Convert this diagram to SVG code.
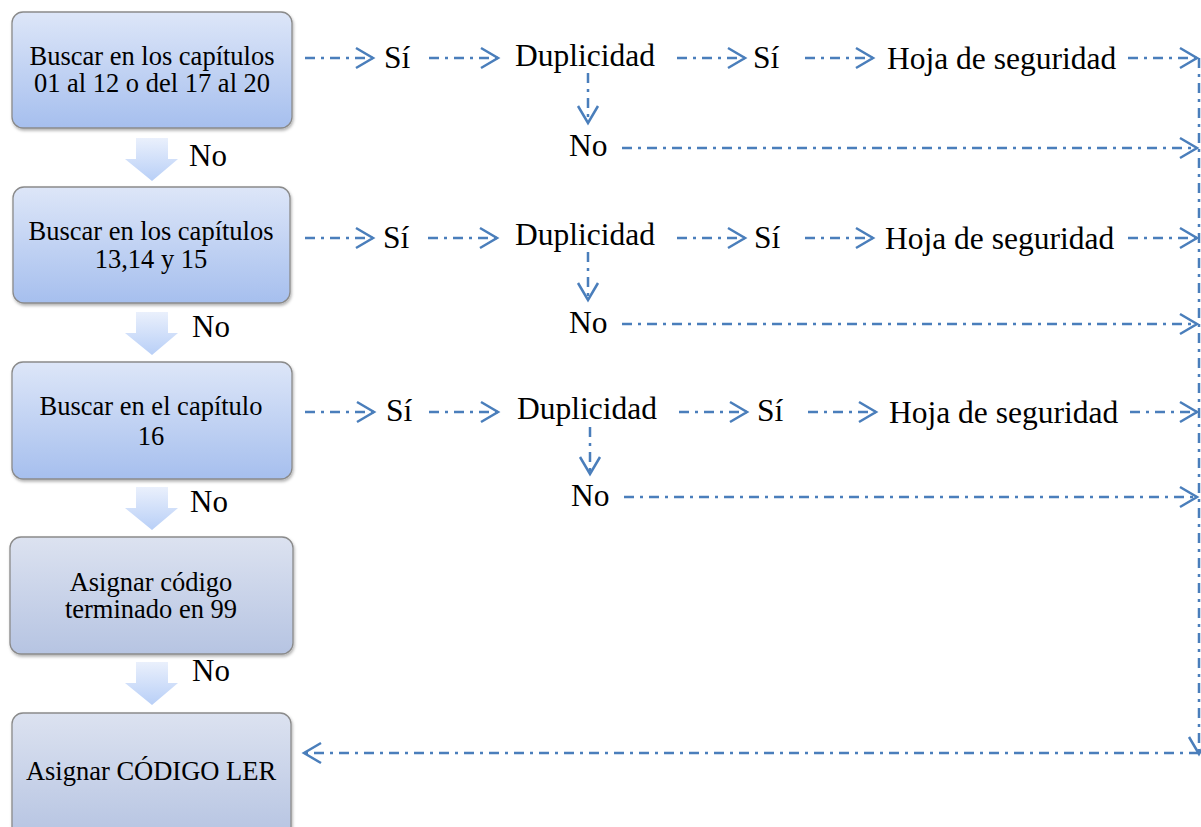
<svg xmlns="http://www.w3.org/2000/svg" width="1201" height="827" viewBox="0 0 1201 827">
<style>
.box{stroke:#8a8a8a;stroke-width:1.3}
.bt{font-family:"Liberation Serif","Times New Roman",serif;font-size:26.5px;fill:#000;text-anchor:middle}
.t{font-family:"Liberation Serif","Times New Roman",serif;font-size:31.5px;fill:#000}
.no{font-family:"Liberation Serif","Times New Roman",serif;font-size:31px;fill:#000}
.c{fill:none;stroke:#4a7ebb;stroke-width:2.5;stroke-dasharray:10 6 3 6}
.blk{fill:url(#ga)}
</style>
<defs>
<linearGradient id="gb" x1="0" y1="0" x2="0" y2="1">
<stop offset="0" stop-color="#dde6f8"/><stop offset="1" stop-color="#a6bfee"/>
</linearGradient>
<linearGradient id="gg" x1="0" y1="0" x2="0" y2="1">
<stop offset="0" stop-color="#dce2f0"/><stop offset="1" stop-color="#b6c4e2"/>
</linearGradient>
<linearGradient id="ga" x1="0" y1="0" x2="0" y2="1">
<stop offset="0" stop-color="#eaf0fc"/><stop offset="1" stop-color="#b8cff7"/>
</linearGradient>
<filter id="sh" x="-5%" y="-5%" width="110%" height="115%">
<feDropShadow dx="1" dy="2" stdDeviation="1.5" flood-color="#000" flood-opacity="0.3"/>
</filter>
<marker id="ah" markerUnits="userSpaceOnUse" markerWidth="24" markerHeight="24" viewBox="-20 -12 24 24" refX="0" refY="0" orient="auto">
<path d="M-17 -10 L0 0 L-17 10" fill="none" stroke="#4a7ebb" stroke-width="2.5" stroke-dasharray="none"/>
</marker>
</defs>

<g id="n1"><rect class="box" x="12" y="12" width="280" height="116" rx="11" fill="url(#gb)" filter="url(#sh)"/>
<text class="bt" x="152" y="65">Buscar en los capítulos</text><text class="bt" x="152" y="92">01 al 12 o del 17 al 20</text></g>
<g id="n2"><rect class="box" x="13" y="187" width="277" height="116" rx="11" fill="url(#gb)" filter="url(#sh)"/>
<text class="bt" x="151" y="240">Buscar en los capítulos</text><text class="bt" x="151" y="268">13,14 y 15</text></g>
<g id="n3"><rect class="box" x="12" y="362" width="280" height="117" rx="11" fill="url(#gb)" filter="url(#sh)"/>
<text class="bt" x="151" y="415">Buscar en el capítulo</text><text class="bt" x="151" y="445">16</text></g>
<g id="n4"><rect class="box" x="10" y="537" width="283" height="117" rx="11" fill="url(#gg)" filter="url(#sh)"/>
<text class="bt" x="151" y="591">Asignar código</text><text class="bt" x="151" y="618">terminado en 99</text></g>
<g id="n5"><rect class="box" x="12" y="713" width="279" height="125" rx="11" fill="url(#gg)" filter="url(#sh)"/>
<text class="bt" x="151" y="780">Asignar CÓDIGO LER</text></g>

<g id="downarrows">
<path class="blk" d="M136 138 H168 V159 H178 L152 181 L125 159 H136 Z"/>
<path class="blk" d="M136 312 H168 V333 H178 L152 355 L125 333 H136 Z"/>
<path class="blk" d="M136 487 H168 V508 H178 L152 530 L125 508 H136 Z"/>
<path class="blk" d="M136 662 H168 V683 H178 L152 705 L125 683 H136 Z"/>
<text class="no" x="189" y="166">No</text>
<text class="no" x="192" y="337">No</text>
<text class="no" x="190" y="512">No</text>
<text class="no" x="192" y="681">No</text>
</g>

<g id="r1">
<text class="t" x="384" y="68">Sí</text>
<text class="t" x="515" y="66">Duplicidad</text>
<text class="t" x="753" y="68">Sí</text>
<text class="t" x="887" y="69">Hoja de seguridad</text>
<text class="t" x="569" y="156">No</text>
</g>
<g id="r2">
<text class="t" x="383" y="248">Sí</text>
<text class="t" x="515" y="245">Duplicidad</text>
<text class="t" x="754" y="248">Sí</text>
<text class="t" x="885" y="249">Hoja de seguridad</text>
<text class="t" x="569" y="333">No</text>
</g>
<g id="r3">
<text class="t" x="386" y="421">Sí</text>
<text class="t" x="517" y="419">Duplicidad</text>
<text class="t" x="757" y="421">Sí</text>
<text class="t" x="889" y="423">Hoja de seguridad</text>
<text class="t" x="571" y="506">No</text>
</g>

<g id="connectors">
<path class="c" d="M305 58 H373" marker-end="url(#ah)"/>
<path class="c" d="M429 58 H498" marker-end="url(#ah)"/>
<path class="c" d="M677 58 H745" marker-end="url(#ah)"/>
<path class="c" d="M805 58 H873" marker-end="url(#ah)"/>
<path class="c" d="M1128 58 H1197" marker-end="url(#ah)"/>
<path class="c" d="M588 73 V123" marker-end="url(#ah)"/>
<path class="c" d="M622 148 H1197" marker-end="url(#ah)"/>

<path class="c" d="M305 238 H373" marker-end="url(#ah)"/>
<path class="c" d="M428 238 H497" marker-end="url(#ah)"/>
<path class="c" d="M677 238 H745" marker-end="url(#ah)"/>
<path class="c" d="M805 238 H873" marker-end="url(#ah)"/>
<path class="c" d="M1128 238 H1197" marker-end="url(#ah)"/>
<path class="c" d="M588 252 V300" marker-end="url(#ah)"/>
<path class="c" d="M622 324 H1197" marker-end="url(#ah)"/>

<path class="c" d="M305 412 H374" marker-end="url(#ah)"/>
<path class="c" d="M429 412 H498" marker-end="url(#ah)"/>
<path class="c" d="M679 412 H747" marker-end="url(#ah)"/>
<path class="c" d="M808 412 H876" marker-end="url(#ah)"/>
<path class="c" d="M1130 412 H1197" marker-end="url(#ah)"/>
<path class="c" d="M590 427 V474" marker-end="url(#ah)"/>
<path class="c" d="M624 497 H1197" marker-end="url(#ah)"/>

<path class="c" d="M1199 58 V754" marker-end="url(#ah)"/>
<path class="c" d="M1199 753 H304" marker-end="url(#ah)"/>
</g>
</svg>
